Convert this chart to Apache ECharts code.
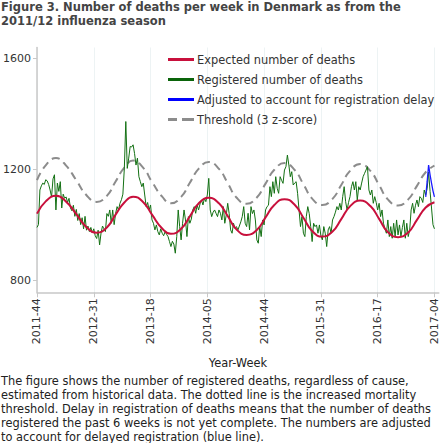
<!DOCTYPE html>
<html>
<head>
<meta charset="utf-8">
<script src="https://cdn.jsdelivr.net/npm/echarts@6/dist/echarts.min.js"></script>
<style>
html,body{margin:0;padding:0;background:#fff;}
#chart{width:440px;height:443px;}
</style>
</head>
<body>
<div id="chart"></div>
<script>
// ---- Data ----
const titleText = 'Figure 3. Number of deaths per week in Denmark as from the\n2011/12 influenza season';
const footerLines = [
  'The figure shows the number of registered deaths, regardless of cause,',
  'estimated from historical data. The dotted line is the increased mortality',
  'threshold. Delay in registration of deaths means that the number of deaths',
  'registered the past 6 weeks is not yet complete. The numbers are adjusted',
  'to account for delayed registration (blue line).'
];
const seriesNames = ['Expected number of deaths', 'Registered number of deaths', 'Adjusted to account for registration delay', 'Threshold (3 z-score)'];
const yTickValues = [800, 1200, 1600];

// ISO week labels, starting 2011-44
const startYear = 2011, startWeek = 44, weekCount = 277;
const isoWeeksInYear = {2011: 52, 2012: 52, 2013: 52, 2014: 52, 2015: 53, 2016: 52, 2017: 52};
const weekLabels = [];
(function () {
  let y = startYear, w = startWeek;
  for (let k = 0; k < weekCount; k++) {
    weekLabels.push(y + '-' + (w < 10 ? '0' + w : w));
    w++;
    if (w > isoWeeksInYear[y]) { w = 1; y++; }
  }
})();

// Registered deaths per week (from 2011-44)
const registered = [
  990,1000,1125,1140,1150,1145,1162,1158,1145,1125,
  1100,1165,1180,1053,1150,1120,1155,1060,1110,1095,
  1100,1080,1095,1060,1050,1070,1030,1055,1015,1040,
  1000,1025,985,1030,980,995,975,990,970,985,
  960,950,980,927,970,995,985,975,1040,1030,
  1053,1005,1053,1000,1040,1065,1053,1077,1090,1110,
  1203,1372,1203,1240,1282,1280,1288,1257,1215,1240,
  1173,1155,1137,1150,1107,1065,1080,1053,1071,1017,
  1005,981,999,975,963,985,969,960,975,965,
  957,939,921,940,930,897,957,1053,993,945,
  1005,1053,1017,957,1029,1005,1020,1053,1065,1041,
  1071,1053,1075,1089,1071,1095,1083,1107,1167,1053,
  1029,1045,1053,1041,1029,1053,1041,1017,1065,1005,
  1035,1077,1040,981,969,1005,987,993,981,995,
  1010,1029,1065,1005,993,1041,981,1065,1040,1053,
  1017,945,933,993,957,1017,999,1053,1065,1070,
  1137,1101,1155,1113,1173,1131,1113,1173,1160,1149,
  1197,1209,1251,1215,1173,1191,1143,1150,1155,1113,
  1053,993,1029,969,957,1030,1065,1040,993,939,
  1005,993,999,969,999,960,945,993,969,921,
  981,993,969,1017,1029,1045,1065,1053,1077,1053,
  1101,1137,1083,1053,1080,1101,1137,1155,1125,1155,
  1089,1137,1125,1150,1173,1185,1197,1209,1125,1107,
  1125,1077,1101,1080,1053,1077,1029,1053,1005,985,
  969,1017,957,993,951,1005,957,1017,963,999,
  957,990,1017,951,1005,957,981,1053,1077,1041,
  1070,1089,1065,1101,1095,1080,1125,1107,1130,1190,
  1120,1060,1000,985
];

// Adjusted for registration delay: [week index, value]
const adjusted = [[267,1100],[268,1155],[269,1215],[270,1180],[271,1150],[272,1122],[273,1100]];

// Expected deaths (key weeks): [week index, value]
const expected = [
  [0,1040],[6,1084],[13,1104],[20,1083],[27,1038],[34,991],[41,971],[48,990],
  [54,1036],[60,1080],[66,1101],[73,1081],[79,1036],[86,986],[92,967],[99,985],
  [105,1030],[111,1076],[118,1097],[125,1077],[131,1031],[137,983],[144,963],[151,981],
  [157,1026],[163,1071],[170,1092],[177,1072],[183,1025],[189,977],[196,957],[203,975],
  [209,1020],[215,1066],[222,1087],[229,1067],[235,1021],[241,973],[248,955],[255,972],
  [261,1017],[267,1062],[273,1081]
];

// Threshold (key weeks): [week index, value]
const threshold = [
  [0,1161],[6,1214],[13,1240],[20,1213],[27,1160],[34,1106],[41,1082],[48,1104],
  [54,1156],[60,1206],[66,1231],[73,1205],[79,1154],[86,1101],[92,1077],[99,1100],
  [105,1151],[111,1201],[118,1226],[125,1201],[131,1150],[137,1098],[144,1075],[151,1098],
  [157,1148],[163,1198],[170,1222],[177,1197],[183,1146],[189,1094],[196,1071],[203,1093],
  [209,1143],[215,1194],[222,1219],[229,1194],[235,1143],[241,1091],[248,1069],[255,1091],
  [261,1140],[267,1189],[273,1213]
];

// ---- Chart ----
const FONT = '"DejaVu Sans", Verdana, sans-serif';
const lineIcon = 'path://M0,0h26v3h-26z';
const dashIcon = 'path://M0,0h9v3h-9z M14,0h12v3h-12z';
const chart = echarts.init(document.getElementById('chart'), null, {renderer: 'svg'});
chart.setOption({
  animation: false,
  backgroundColor: '#ffffff',
  textStyle: {fontFamily: FONT},
  title: {
    text: titleText,
    left: 1, top: 0, padding: 0,
    textStyle: {fontFamily: FONT, fontSize: 11.5, fontWeight: 'bold', color: '#444444', lineHeight: 14}
  },
  graphic: [{
    type: 'text', left: 1, top: 373.5,
    style: {text: footerLines.join('\n'), font: '11.4px ' + FONT, fill: '#222222', lineHeight: 14}
  }],
  legend: {
    orient: 'vertical', left: 168, top: 53, padding: 0,
    itemWidth: 26, itemHeight: 3, itemGap: 7,
    data: [
      {name: seriesNames[0], icon: lineIcon},
      {name: seriesNames[1], icon: lineIcon},
      {name: seriesNames[2], icon: lineIcon},
      {name: seriesNames[3], icon: dashIcon}
    ],
    textStyle: {fontFamily: FONT, fontSize: 11.4, color: '#333333', lineHeight: 13, padding: [0, 0, 0, -2]}
  },
  grid: {left: 31, right: 1.2, top: 47.5, bottom: 150.7, containLabel: false},
  xAxis: {
    type: 'category', data: weekLabels, boundaryGap: false,
    name: 'Year-Week', nameLocation: 'middle', nameGap: 65,
    nameTextStyle: {fontFamily: FONT, fontSize: 11.4, color: '#222222'},
    axisLine: {lineStyle: {color: '#c8c8c8', width: 1.5}},
    axisTick: {show: true, interval: 38, length: 5, lineStyle: {color: '#c8c8c8'}},
    axisLabel: {interval: 38, rotate: 90, margin: 6, fontFamily: FONT, fontSize: 11, color: '#333333'},
    splitLine: {show: true, interval: 38, lineStyle: {color: '#edf3f4', width: 1}}
  },
  yAxis: {
    type: 'value', min: 756, max: 1639,
    axisLine: {show: true, lineStyle: {color: '#c8c8c8', width: 1.5}},
    axisTick: {show: true, length: 4, customValues: yTickValues, lineStyle: {color: '#c8c8c8'}},
    axisLabel: {customValues: yTickValues, formatter: function (v) { return String(v); }, margin: 6, fontFamily: FONT, fontSize: 11, color: '#333333'},
    splitLine: {show: false}
  },
  series: [
    {
      name: seriesNames[0], type: 'line', data: expected, smooth: 0.5, symbol: 'none', connectNulls: true,
      lineStyle: {color: '#c8103c', width: 2}, itemStyle: {color: '#c8103c'}, z: 3
    },
    {
      name: seriesNames[1], type: 'line', data: registered, symbol: 'none',
      lineStyle: {color: '#137013', width: 1}, itemStyle: {color: '#0a640a'}, z: 2
    },
    {
      name: seriesNames[2], type: 'line', data: adjusted, symbol: 'none',
      lineStyle: {color: '#1a1aff', width: 1.3}, itemStyle: {color: '#0000ff'}, z: 4
    },
    {
      name: seriesNames[3], type: 'line', data: threshold, smooth: 0.5, symbol: 'none',
      lineStyle: {color: '#8c8c8c', width: 2, type: [8, 5]}, itemStyle: {color: '#8c8c8c'}, z: 1
    }
  ]
});
</script>
</body>
</html>
